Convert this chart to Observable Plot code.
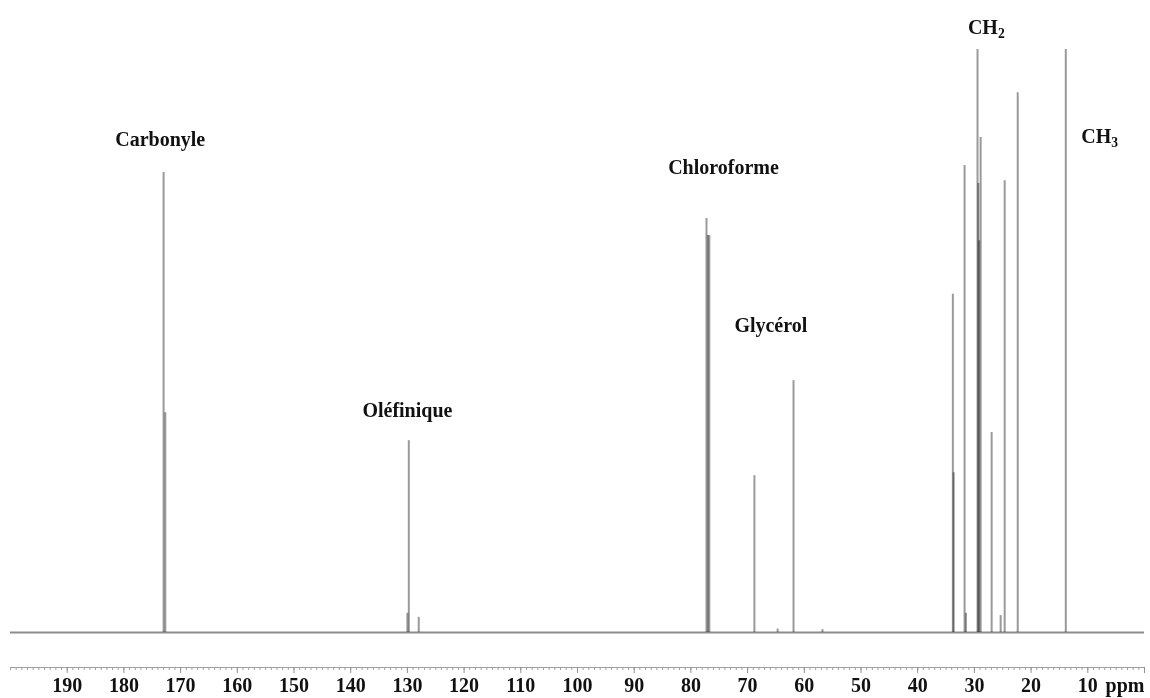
<!DOCTYPE html>
<html><head><meta charset="utf-8">
<script src="https://cdn.jsdelivr.net/npm/d3@7"></script>
<script src="https://cdn.jsdelivr.net/npm/@observablehq/plot@0.6"></script>
<style>html,body{margin:0;padding:0;background:#fff}svg{display:block}</style>
</head><body><div id="chart"></div>
<script>
// 13C NMR peaks: chemical shift (ppm) and relative intensity (tallest = 100)
const peakShift = [173.0, 172.7, 130.0, 129.75, 128.0, 77.25, 77.0, 76.75, 68.8, 64.7, 61.9, 56.8,
  33.8, 33.65, 31.73, 31.5, 29.45, 29.3, 29.15, 28.9, 26.96, 25.37, 24.66, 22.36, 13.88];
const peakIntensity = [78.9, 37.7, 3.3, 32.9, 2.6, 71.0, 68.1, 68.1, 26.9, 0.6, 43.2, 0.5,
  58.0, 27.4, 80.1, 3.3, 100, 77.0, 67.2, 84.9, 34.3, 2.9, 77.5, 92.6, 100];

// annotations (position in ppm / intensity units)
const labelText = ["Carbonyle", "Oléfinique", "Chloroforme", "Glycérol", "CH2", "CH3"];
const labelShift = [173.6, 130.0, 74.25, 65.9, 27.9, 7.9];
const labelIntensity = [83.4, 37.0, 78.6, 51.6, 102.6, 84.0];

const majorTicks = d3.range(0, 200, 10);
const minorTicks = d3.range(0, 201, 1);

const peaks = peakShift.map((s, i) => ({shift: s, intensity: peakIntensity[i]}));
const labels = labelText.map((t, i) => ({label: t, shift: labelShift[i], intensity: labelIntensity[i]}));

const font = "'Liberation Serif', 'Times New Roman', serif";

const plot = Plot.plot({
  width: 1150,
  height: 698,
  marginLeft: 10,
  marginRight: 6,
  marginTop: 49,
  marginBottom: 31,
  x: {domain: [200, 0], axis: null},
  y: {domain: [-6, 100], axis: null},
  style: {fontFamily: font, background: "#fff"},
  marks: [
    Plot.ruleY([0], {stroke: "#8c8c8c", strokeWidth: 1.8}),
    Plot.ruleX(peaks, {x: "shift", y1: 0, y2: "intensity", stroke: "#9a9a9a", strokeWidth: 2, mixBlendMode: "multiply"}),
    Plot.ruleY([-6], {stroke: "#a0a0a0", strokeWidth: 1.2}),
    Plot.axisX({ticks: minorTicks, tickSize: 3, tickFormat: () => "", stroke: "#a0a0a0", label: null}),
    Plot.axisX({ticks: majorTicks, tickSize: 6, tickPadding: 4, tickFormat: d => d === 0 ? "" : String(d),
      stroke: "#909090", fill: "#111", fontSize: 20, fontWeight: "bold", label: null}),
    Plot.text(["ppm"], {frameAnchor: "bottom-right", textAnchor: "end", lineAnchor: "bottom", dy: 24,
      fontSize: 20, fontWeight: "bold", fill: "#111"}),
    Plot.text(labels, {x: "shift", y: "intensity", text: "label", lineAnchor: "bottom",
      fontSize: 20, fontWeight: "bold", fill: "#111"})
  ]
});

d3.select(plot).selectAll("text").each(function () {
  const t = d3.select(this);
  const m = t.text().match(/^CH(\d)$/);
  if (m && this.childElementCount === 0) {
    t.text("CH");
    t.append("tspan").attr("dy", "0.3em").attr("font-size", "0.68em").text(m[1]);
  }
});

document.getElementById("chart").appendChild(plot);
</script>
</body></html>
